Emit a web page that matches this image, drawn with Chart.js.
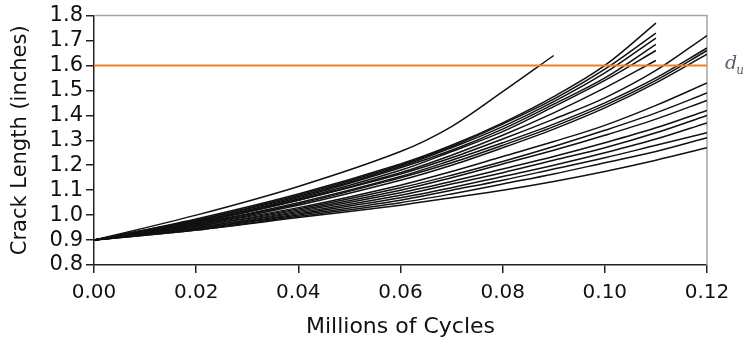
<!DOCTYPE html>
<html>
<head>
<meta charset="utf-8">
<script src="https://cdn.jsdelivr.net/npm/chart.js@4.4.0/dist/chart.umd.min.js"></script>
<style>
  html, body { margin: 0; padding: 0; background: #fff; }
  #wrap { width: 743px; height: 351px; }
</style>
</head>
<body>
<div id="wrap"><canvas id="crackChart"></canvas></div>
<script>
// millions of cycles where the curves were read
const cycles = [0, 0.02, 0.04, 0.06, 0.07, 0.08, 0.09, 0.10, 0.11, 0.12];

// fastest specimen, stops at 0.09
const curveTop = [0.9, 1.0, 1.115, 1.255, 1.355, 1.495, 1.64];

// specimens stopping at 0.11
const curveA1 = [0.9, 0.985, 1.085, 1.205, 1.28, 1.37, 1.475, 1.60, 1.77];
const curveA2 = [0.9, 0.98, 1.08, 1.20, 1.275, 1.365, 1.465, 1.585, 1.73];
const curveA3 = [0.9, 0.98, 1.075, 1.195, 1.27, 1.355, 1.455, 1.57, 1.71];
const curveA4 = [0.9, 0.975, 1.07, 1.19, 1.26, 1.345, 1.445, 1.55, 1.685];
const curveA5 = [0.9, 0.975, 1.065, 1.18, 1.255, 1.335, 1.435, 1.54, 1.66];
const curveA6 = [0.9, 0.97, 1.06, 1.17, 1.24, 1.32, 1.41, 1.51, 1.62];

// specimens running to 0.12
const curveB1 = [0.9, 0.97, 1.06, 1.165, 1.23, 1.305, 1.385, 1.47, 1.58, 1.72];
const curveB2 = [0.9, 0.965, 1.05, 1.155, 1.22, 1.29, 1.365, 1.45, 1.55, 1.67];
const curveB3 = [0.9, 0.965, 1.045, 1.15, 1.21, 1.28, 1.355, 1.44, 1.54, 1.66];
const curveB4 = [0.9, 0.96, 1.04, 1.14, 1.20, 1.27, 1.345, 1.43, 1.53, 1.645];
const curveB5 = [0.9, 0.96, 1.03, 1.12, 1.175, 1.235, 1.295, 1.36, 1.44, 1.53];
const curveB6 = [0.9, 0.955, 1.025, 1.11, 1.16, 1.215, 1.275, 1.34, 1.41, 1.49];
const curveB7 = [0.9, 0.955, 1.02, 1.10, 1.15, 1.205, 1.26, 1.32, 1.385, 1.46];
const curveB8 = [0.9, 0.95, 1.015, 1.09, 1.135, 1.185, 1.235, 1.29, 1.35, 1.42];
const curveB9 = [0.9, 0.95, 1.01, 1.08, 1.125, 1.17, 1.22, 1.27, 1.33, 1.40];
const curveB10 = [0.9, 0.945, 1.005, 1.07, 1.11, 1.155, 1.20, 1.25, 1.305, 1.37];
const curveB11 = [0.9, 0.945, 1.0, 1.06, 1.10, 1.14, 1.185, 1.23, 1.28, 1.33];
const curveB12 = [0.9, 0.94, 0.995, 1.05, 1.085, 1.125, 1.165, 1.21, 1.255, 1.31];
const curveB13 = [0.9, 0.94, 0.99, 1.04, 1.07, 1.10, 1.135, 1.175, 1.22, 1.27];

const allCurves = [curveTop, curveA1, curveA2, curveA3, curveA4, curveA5, curveA6,
    curveB1, curveB2, curveB3, curveB4, curveB5, curveB6, curveB7, curveB8,
    curveB9, curveB10, curveB11, curveB12, curveB13];

// critical crack length d_u
const limitLength = 1.6;
const limitCycles = [0, 0.12];

const yTicks = [0.8, 0.9, 1.0, 1.1, 1.2, 1.3, 1.4, 1.5, 1.6, 1.7, 1.8];
const xTicks = [0, 0.02, 0.04, 0.06, 0.08, 0.10, 0.12];

function toPoints(values){
    return values.map((v, i) => ({x: cycles[i], y: v}));
}

const datasets = allCurves.map(c => ({
    data: toPoints(c),
    borderColor: '#111',
    borderWidth: 1.5,
    pointRadius: 0,
    fill: false,
    tension: 0.35
}));

datasets.unshift({
    data: limitCycles.map(x => ({x: x, y: limitLength})),
    borderColor: 'rgb(240, 125, 45)',
    borderWidth: 2,
    pointRadius: 0,
    fill: false
});

// grey top/right frame and the d_u label
const framePlugin = {
    id: 'frame',
    beforeDatasetsDraw(chart){
        const a = chart.chartArea;
        const ctx = chart.ctx;
        ctx.save();
        ctx.strokeStyle = '#a6a6a6';
        ctx.lineWidth = 1.5;
        ctx.beginPath();
        ctx.moveTo(a.left, a.top);
        ctx.lineTo(a.right, a.top);
        ctx.lineTo(a.right, a.bottom);
        ctx.stroke();
        ctx.restore();
    },
    afterDraw(chart){
        const ctx = chart.ctx;
        const y = chart.scales.y.getPixelForValue(limitLength);
        const x = chart.chartArea.right + 18;
        ctx.save();
        ctx.fillStyle = '#5a6272';
        ctx.textBaseline = 'middle';
        ctx.font = 'italic 19px "DejaVu Serif"';
        ctx.fillText('d', x, y - 1);
        const w = ctx.measureText('d').width;
        ctx.font = 'italic 12px "DejaVu Serif"';
        ctx.fillText('u', x + w - 1, y + 5);
        ctx.restore();
    }
};

const ct = document.getElementById('crackChart').getContext('2d');
new Chart(ct, {
    type: 'line',
    data: { datasets: datasets },
    plugins: [framePlugin],
    options: {
        responsive: true,
        maintainAspectRatio: false,
        animation: false,
        layout: { padding: { top: 15, right: 36, left: 0, bottom: 0 } },
        plugins: { legend: { display: false }, tooltip: { enabled: false } },
        scales: {
            x: {
                type: 'linear',
                min: 0,
                max: 0.12,
                afterFit: s => { s.height = 86; },
                afterBuildTicks: s => { s.ticks = xTicks.map(v => ({value: v})); },
                ticks: {
                    color: '#111',
                    font: { family: 'DejaVu Sans', size: 20 },
                    padding: 8,
                    maxRotation: 0,
                    autoSkip: false,
                    callback: v => v.toFixed(2)
                },
                grid: { drawOnChartArea: false, drawTicks: true, tickLength: 8, color: '#222', lineWidth: 1.5 },
                border: { color: '#222', width: 1.5 },
                title: {
                    display: true,
                    text: 'Millions of Cycles',
                    color: '#111',
                    font: { family: 'DejaVu Sans', size: 22 },
                    padding: { top: 0, bottom: 11 }
                }
            },
            y: {
                min: 0.8,
                max: 1.8,
                afterFit: s => { s.width = 94; },
                afterBuildTicks: s => { s.ticks = yTicks.map(v => ({value: v})); },
                ticks: {
                    color: '#111',
                    font: { family: 'DejaVu Sans', size: 21 },
                    padding: 3,
                    autoSkip: false,
                    callback: v => v.toFixed(1)
                },
                grid: { drawOnChartArea: false, drawTicks: true, tickLength: 8, color: '#222', lineWidth: 1.5 },
                border: { color: '#222', width: 1.5 },
                title: {
                    display: true,
                    text: 'Crack Length (inches)',
                    color: '#111',
                    font: { family: 'DejaVu Sans', size: 21 },
                    padding: { top: 8, bottom: 0 }
                }
            }
        }
    }
});
</script>
</body>
</html>
